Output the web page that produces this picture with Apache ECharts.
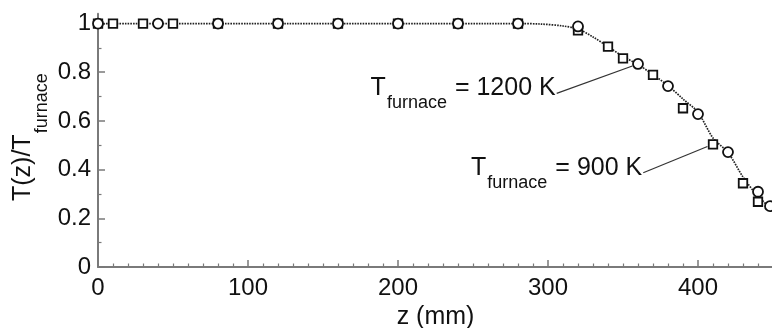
<!DOCTYPE html>
<html>
<head>
<meta charset="utf-8">
<script src="https://cdn.jsdelivr.net/npm/echarts@6/dist/echarts.min.js"></script>
<style>
  html, body { margin: 0; padding: 0; background: #fff; }
  #chart { width: 772px; height: 328px; }
</style>
</head>
<body>
<div id="chart"></div>
<script>
// Axial temperature profile, normalised by the furnace temperature
const zSquare900 = [0, 10, 30, 50, 80, 120, 160, 200, 240, 280, 320, 340, 350, 370, 390, 410, 430, 440];
const tSquare900 = [1, 1, 1, 1, 1, 1, 1, 1, 1, 1, 0.972, 0.905, 0.857, 0.789, 0.652, 0.504, 0.344, 0.268];

const zCircle1200 = [0, 40, 80, 120, 160, 200, 240, 280, 320, 360, 380, 400, 420, 440, 448];
const tCircle1200 = [1, 1, 1, 1, 1, 1, 1, 1, 0.988, 0.834, 0.743, 0.628, 0.472, 0.309, 0.25];

// Model curve (dotted)
const zModel = [0, 100, 200, 280, 295, 310, 320, 330, 340, 350, 360, 370, 380, 390, 400, 410, 420, 430, 440, 450];
const tModel = [1, 1, 1, 1, 0.998, 0.99, 0.977, 0.945, 0.905, 0.865, 0.832, 0.79, 0.745, 0.69, 0.635, 0.53, 0.47, 0.37, 0.29, 0.235];

const xTickLabels = [0, 100, 200, 300, 400];
const yTickLabels = [0, 0.2, 0.4, 0.6, 0.8, 1];

const FONT = '"Liberation Sans", Arial, Helvetica, sans-serif';
const AXIS_GREY = '#7a7a7a';
const INK = '#111';

const xMinor = [];
for (let v = 10; v < 450; v += 10) if (v % 100 !== 0) xMinor.push(v);
const yMinor = [0.1, 0.3, 0.5, 0.7, 0.9];

const pairs = (xs, ys) => xs.map((x, i) => [x, ys[i]]);

const chart = echarts.init(document.getElementById('chart'), null, { renderer: 'canvas' });

const option = {
  animation: false,
  backgroundColor: '#fff',
  grid: { left: 98, right: -1, top: 13.8, bottom: 61, containLabel: false, outerBoundsMode: 'none' },
  xAxis: [
    {
      type: 'value', min: 0, max: 450, interval: 100,
      axisLine: { show: true, lineStyle: { color: AXIS_GREY, width: 2 } },
      axisTick: { show: true, inside: true, length: 7, customValues: xTickLabels,
                  lineStyle: { color: AXIS_GREY, width: 1.5 } },
      axisLabel: { customValues: xTickLabels, margin: 9, color: INK, fontSize: 24, fontFamily: FONT },
      splitLine: { show: false },
      name: 'z (mm)', nameLocation: 'middle', nameGap: 36,
      nameTextStyle: { color: INK, fontSize: 25, fontFamily: FONT }
    },
    {
      type: 'value', min: 0, max: 450, position: 'bottom',
      axisLine: { show: false },
      axisTick: { show: true, inside: true, length: 3.5, customValues: xMinor,
                  lineStyle: { color: AXIS_GREY, width: 1.2 } },
      axisLabel: { show: false },
      splitLine: { show: false }
    }
  ],
  yAxis: [
    {
      type: 'value', min: 0, max: 1.04,
      axisLine: { show: true, lineStyle: { color: AXIS_GREY, width: 2 } },
      axisTick: { show: true, inside: true, length: 7, customValues: yTickLabels,
                  lineStyle: { color: AXIS_GREY, width: 1.5 } },
      axisLabel: { customValues: yTickLabels, margin: 7, color: INK, fontSize: 24, fontFamily: FONT,
                   formatter: v => String(+v.toFixed(1)) },
      splitLine: { show: false }
    },
    {
      type: 'value', min: 0, max: 1.04, position: 'left',
      axisLine: { show: false },
      axisTick: { show: true, inside: true, length: 3.5, customValues: yMinor,
                  lineStyle: { color: AXIS_GREY, width: 1.2 } },
      axisLabel: { show: false },
      splitLine: { show: false }
    }
  ],
  series: [
    {
      name: 'model', type: 'line', xAxisIndex: 0, yAxisIndex: 0,
      data: pairs(zModel, tModel), smooth: 0.3, showSymbol: false, symbol: 'none',
      lineStyle: { color: '#222', width: 1.7, type: [1.6, 1.1] }, z: 2
    },
    {
      name: 'T_furnace = 900 K', type: 'scatter', xAxisIndex: 0, yAxisIndex: 0,
      data: pairs(zSquare900, tSquare900), symbol: 'rect', symbolSize: 8.5,
      itemStyle: { color: '#fff', borderColor: INK, borderWidth: 1.8, opacity: 1 }, z: 3
    },
    {
      name: 'T_furnace = 1200 K', type: 'scatter', xAxisIndex: 0, yAxisIndex: 0,
      data: pairs(zCircle1200, tCircle1200), symbol: 'circle', symbolSize: 10,
      itemStyle: { color: '#fff', borderColor: INK, borderWidth: 1.8, opacity: 1 }, z: 4
    }
  ]
};

chart.setOption(option);

// ---- annotations and y-axis title ----
const measure = (() => {
  const ctx = document.createElement('canvas').getContext('2d');
  return (text, size) => { ctx.font = size + 'px ' + FONT; return ctx.measureText(text).width; };
})();
const toPx = (z, t) => chart.convertToPixel({ xAxisIndex: 0, yAxisIndex: 0 }, [z, t]);

function annotation(anchor, markZ, markT, valueText, gap) {
  const a = toPx(anchor[0], anchor[1]);
  const m = toPx(markZ, markT);
  const dx = m[0] - a[0], dy = m[1] - a[1];
  const len = Math.hypot(dx, dy);
  const end = [m[0] - dx / len * gap, m[1] - dy / len * gap];
  const eqText = '= ' + valueText;
  const eqRight = a[0] - 1;
  const eqLeft = eqRight - measure(eqText, 25);
  const subRight = eqLeft - 8;
  const subLeft = subRight - measure('furnace', 18);
  return [
    { type: 'line', shape: { x1: a[0], y1: a[1], x2: end[0], y2: end[1] },
      style: { stroke: '#333', lineWidth: 1.2 }, z: 10 },
    { type: 'text', x: eqRight, y: a[1] - 5,
      style: { text: eqText, fill: INK, font: '25px ' + FONT, align: 'right', verticalAlign: 'middle' }, z: 10 },
    { type: 'text', x: subLeft, y: a[1] + 10,
      style: { text: 'furnace', fill: INK, font: '18px ' + FONT, align: 'left', verticalAlign: 'middle' }, z: 10 },
    { type: 'text', x: subLeft - 1, y: a[1] - 5,
      style: { text: 'T', fill: INK, font: '25px ' + FONT, align: 'right', verticalAlign: 'middle' }, z: 10 }
  ];
}

const yTitleMainLen = measure('T(z)/T', 25);
const yTitleBottom = 201;

chart.setOption({
  graphic: [
    ...annotation([305.8, 0.713], zCircle1200[9], tCircle1200[9], '1200 K', 6),
    ...annotation([363.5, 0.387], zSquare900[15], tSquare900[15], '900 K', 6),
    { type: 'text', x: 23, y: yTitleBottom, rotation: Math.PI / 2,
      style: { text: 'T(z)/T', fill: INK, font: '25px ' + FONT, align: 'left', verticalAlign: 'middle' }, z: 10 },
    { type: 'text', x: 42, y: yTitleBottom - yTitleMainLen - 1, rotation: Math.PI / 2,
      style: { text: 'furnace', fill: INK, font: '18px ' + FONT, align: 'left', verticalAlign: 'middle' }, z: 10 }
  ]
});
</script>
</body>
</html>
